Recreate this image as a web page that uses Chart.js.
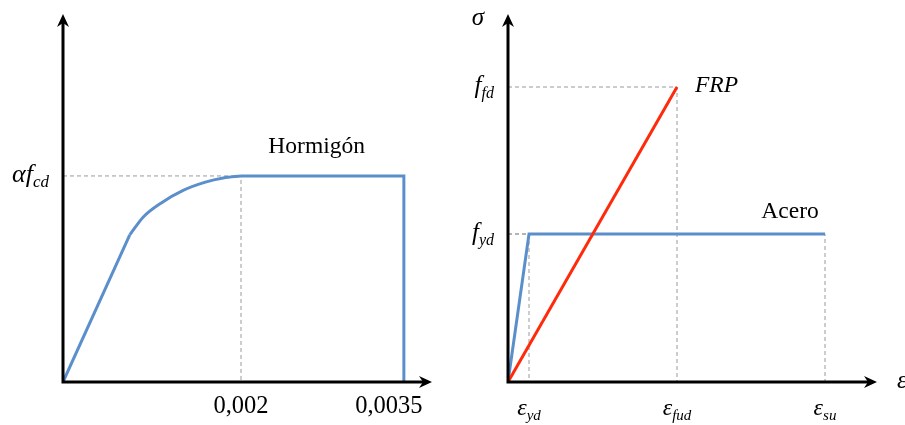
<!DOCTYPE html>
<html>
<head>
<meta charset="utf-8">
<script src="https://cdn.jsdelivr.net/npm/chart.js@4/dist/chart.umd.min.js"></script>
<style>
  body { margin: 0; background: #fff; }
  #wrap { position: relative; width: 905px; height: 425px; overflow: hidden; }
  canvas { position: absolute; top: 0; }
</style>
</head>
<body>
<div id="wrap">
  <canvas id="horm_chart" width="450" height="425" style="left:0"></canvas>
  <canvas id="frp_chart" width="455" height="425" style="left:450px"></canvas>
</div>
<script>
// --- Hormigón (schematic units: strain in per mil, stress / alpha fcd) ---
var horm_lin_x = [0, 0.75];
var horm_lin_y = [0, 0.714];
var horm_curve_x = [0.75, 0.9, 1.1, 1.35, 1.6, 1.8, 2.0];
var horm_curve_y = [0.714, 0.80, 0.868, 0.93, 0.97, 0.99, 1.0];
var horm_flat_x = [2.0, 3.83, 3.83];
var horm_flat_y = [1.0, 1.0, 0];
var horm_corner_x = [2.0];
var horm_corner_y = [1.0];
var horm_tick_x = [2.0, 3.83];
var horm_tick_x_labels = ['0,002', '0,0035'];
var horm_tick_y = [1.0];
var horm_tick_y_labels = [['\u03B1f', 'cd']];

// --- Acero / FRP (schematic units) ---
var acero_x = [0, 2.1, 31.7];
var acero_y = [0, 14.8, 14.8];
var frp_x = [0, 16.9];
var frp_y = [0, 29.5];
var frp_corner_x = [2.1, 16.9, 31.7];
var frp_corner_y = [14.8, 29.5, 14.8];
var frp_tick_x = [2.1, 16.9, 31.7];
var frp_tick_x_labels = [['\u03B5', 'yd'], ['\u03B5', 'fud'], ['\u03B5', 'su']];
var frp_tick_y = [14.8, 29.5];
var frp_tick_y_labels = [['f', 'yd'], ['f', 'fd']];

var SERIF = '"Liberation Serif", "Times New Roman", serif';
var BLUE = '#5B8FCB';
var RED = '#FF2A0A';

function toPoints(xs, ys) {
    var pts = [];
    for (var i = 0; i < xs.length; i++) pts.push({x: xs[i], y: ys[i]});
    return pts;
}

function guideSets(cx, cy) {
    var sets = [];
    for (var i = 0; i < cx.length; i++) {
        sets.push({
            data: [{x: 0, y: cy[i]}, {x: cx[i], y: cy[i]}, {x: cx[i], y: 0}],
            borderColor: '#9a9a9a',
            borderWidth: 1,
            borderDash: [4, 3],
            pointRadius: 0,
            tension: 0,
            order: 10
        });
    }
    return sets;
}

function curve(xs, ys, color, mono) {
    var ds = {
        data: toPoints(xs, ys),
        borderColor: color,
        borderWidth: 3,
        pointRadius: 0,
        tension: 0,
        order: 1
    };
    if (mono) ds.cubicInterpolationMode = 'monotone';
    return ds;
}

function drawArrow(ctx, tx, ty, dx, dy) {
    var px = -dy, py = dx;
    ctx.beginPath();
    ctx.moveTo(tx, ty);
    ctx.lineTo(tx - dx * 13 + px * 6, ty - dy * 13 + py * 6);
    ctx.lineTo(tx - dx * 9, ty - dy * 9);
    ctx.lineTo(tx - dx * 13 - px * 6, ty - dy * 13 - py * 6);
    ctx.closePath();
    ctx.fill();
}

function drawSubText(ctx, x, y, main, sub, align, size) {
    var mainFont = 'italic ' + size + 'px ' + SERIF;
    var subFont = 'italic ' + Math.round(size * 0.64) + 'px ' + SERIF;
    ctx.font = mainFont;
    var wm = ctx.measureText(main).width;
    ctx.font = subFont;
    var ws = ctx.measureText(sub).width;
    var w = wm + ws;
    var left = align === 'right' ? x - w : (align === 'center' ? x - w / 2 : x);
    ctx.textAlign = 'left';
    ctx.textBaseline = 'alphabetic';
    ctx.font = mainFont;
    ctx.fillText(main, left, y);
    ctx.font = subFont;
    ctx.fillText(sub, left + wm, y + size * 0.2);
}

var schemaPlugin = {
    id: 'schema',
    afterDatasetsDraw: function(chart, args, opts) {
        var ctx = chart.ctx;
        var xs = chart.scales.x, ys = chart.scales.y;
        var x0 = xs.getPixelForValue(0), y0 = ys.getPixelForValue(0);
        var xEnd = chart.chartArea.right, yEnd = chart.chartArea.top;
        ctx.save();
        ctx.strokeStyle = '#000';
        ctx.fillStyle = '#000';
        ctx.lineWidth = 3;
        ctx.beginPath();
        ctx.moveTo(x0, y0 + 1.5);
        ctx.lineTo(x0, yEnd + 9);
        ctx.moveTo(x0 - 1.5, y0);
        ctx.lineTo(xEnd - 9, y0);
        ctx.stroke();
        drawArrow(ctx, x0, yEnd, 0, -1);
        drawArrow(ctx, xEnd, y0, 1, 0);

        // y tick labels
        var i;
        for (i = 0; i < opts.yTicks.length; i++) {
            var py = ys.getPixelForValue(opts.yTicks[i]);
            drawSubText(ctx, x0 - 14, py + 6, opts.yLabels[i][0], opts.yLabels[i][1], 'right', opts.ySize);
        }
        // x tick labels
        for (i = 0; i < opts.xTicks.length; i++) {
            var px = xs.getPixelForValue(opts.xTicks[i]) + (opts.xShift ? opts.xShift[i] : 0);
            var lab = opts.xLabels[i];
            if (typeof lab === 'string') {
                ctx.font = '24.5px ' + SERIF;
                ctx.textAlign = 'center';
                ctx.textBaseline = 'alphabetic';
                ctx.fillText(lab, px, y0 + 31);
            } else {
                drawSubText(ctx, px, y0 + 33, lab[0], lab[1], 'center', 24);
            }
        }
        // series names
        for (i = 0; i < opts.names.length; i++) {
            var n = opts.names[i];
            ctx.font = (n.italic ? 'italic ' : '') + '23.5px ' + SERIF;
            ctx.textAlign = n.align;
            ctx.textBaseline = 'alphabetic';
            ctx.fillText(n.text, xs.getPixelForValue(n.x), ys.getPixelForValue(n.y));
        }
        // axis titles
        if (opts.axisTitles) {
            ctx.font = 'italic 25px ' + SERIF;
            ctx.textAlign = 'center';
            ctx.fillText('\u03C3', x0 - 30, yEnd + 11);
            ctx.textAlign = 'left';
            ctx.fillText('\u03B5', xEnd + 20, y0 + 6);
        }
        ctx.restore();
    }
};

function baseOptions(xmax, ymax, pad, schema) {
    return {
        responsive: false,
        animation: false,
        layout: { padding: pad },
        scales: {
            x: { type: 'linear', min: 0, max: xmax, display: false },
            y: { type: 'linear', min: 0, max: ymax, display: false }
        },
        plugins: {
            legend: { display: false },
            tooltip: { enabled: false },
            schema: schema
        },
        elements: { line: { borderCapStyle: 'butt', borderJoinStyle: 'miter' } }
    };
}

function buildHormChart() {
    var hc = document.getElementById('horm_chart');
    var sets = [
        curve(horm_lin_x, horm_lin_y, BLUE, false),
        curve(horm_curve_x, horm_curve_y, BLUE, true),
        curve(horm_flat_x, horm_flat_y, BLUE, false)
    ].concat(guideSets(horm_corner_x, horm_corner_y));
    new Chart(hc, {
        type: 'line',
        data: { datasets: sets },
        options: baseOptions(4.146, 1.786, {left: 63, right: 18, top: 14, bottom: 43}, {
            xTicks: horm_tick_x,
            xLabels: horm_tick_x_labels,
            xShift: [0, -15],
            yTicks: horm_tick_y,
            yLabels: horm_tick_y_labels,
            ySize: 26,
            names: [{text: 'Hormig\u00F3n', x: 2.85, y: 1.11, align: 'center', italic: false}],
            axisTitles: false
        }),
        plugins: [schemaPlugin]
    });
}

function buildFrpChart() {
    var fc = document.getElementById('frp_chart');
    var sets = [
        curve(frp_x, frp_y, RED, false),
        curve(acero_x, acero_y, BLUE, false)
    ].concat(guideSets(frp_corner_x, frp_corner_y));
    sets[0].order = 0;
    new Chart(fc, {
        type: 'line',
        data: { datasets: sets },
        options: baseOptions(36.9, 36.8, {left: 58, right: 28, top: 14, bottom: 43}, {
            xTicks: frp_tick_x,
            xLabels: frp_tick_x_labels,
            yTicks: frp_tick_y,
            yLabels: frp_tick_y_labels,
            ySize: 25,
            names: [
                {text: 'FRP', x: 18.7, y: 29.0, align: 'left', italic: true},
                {text: 'Acero', x: 28.2, y: 16.4, align: 'center', italic: false}
            ],
            axisTitles: true
        }),
        plugins: [schemaPlugin]
    });
}

buildHormChart();
buildFrpChart();
</script>
</body>
</html>
